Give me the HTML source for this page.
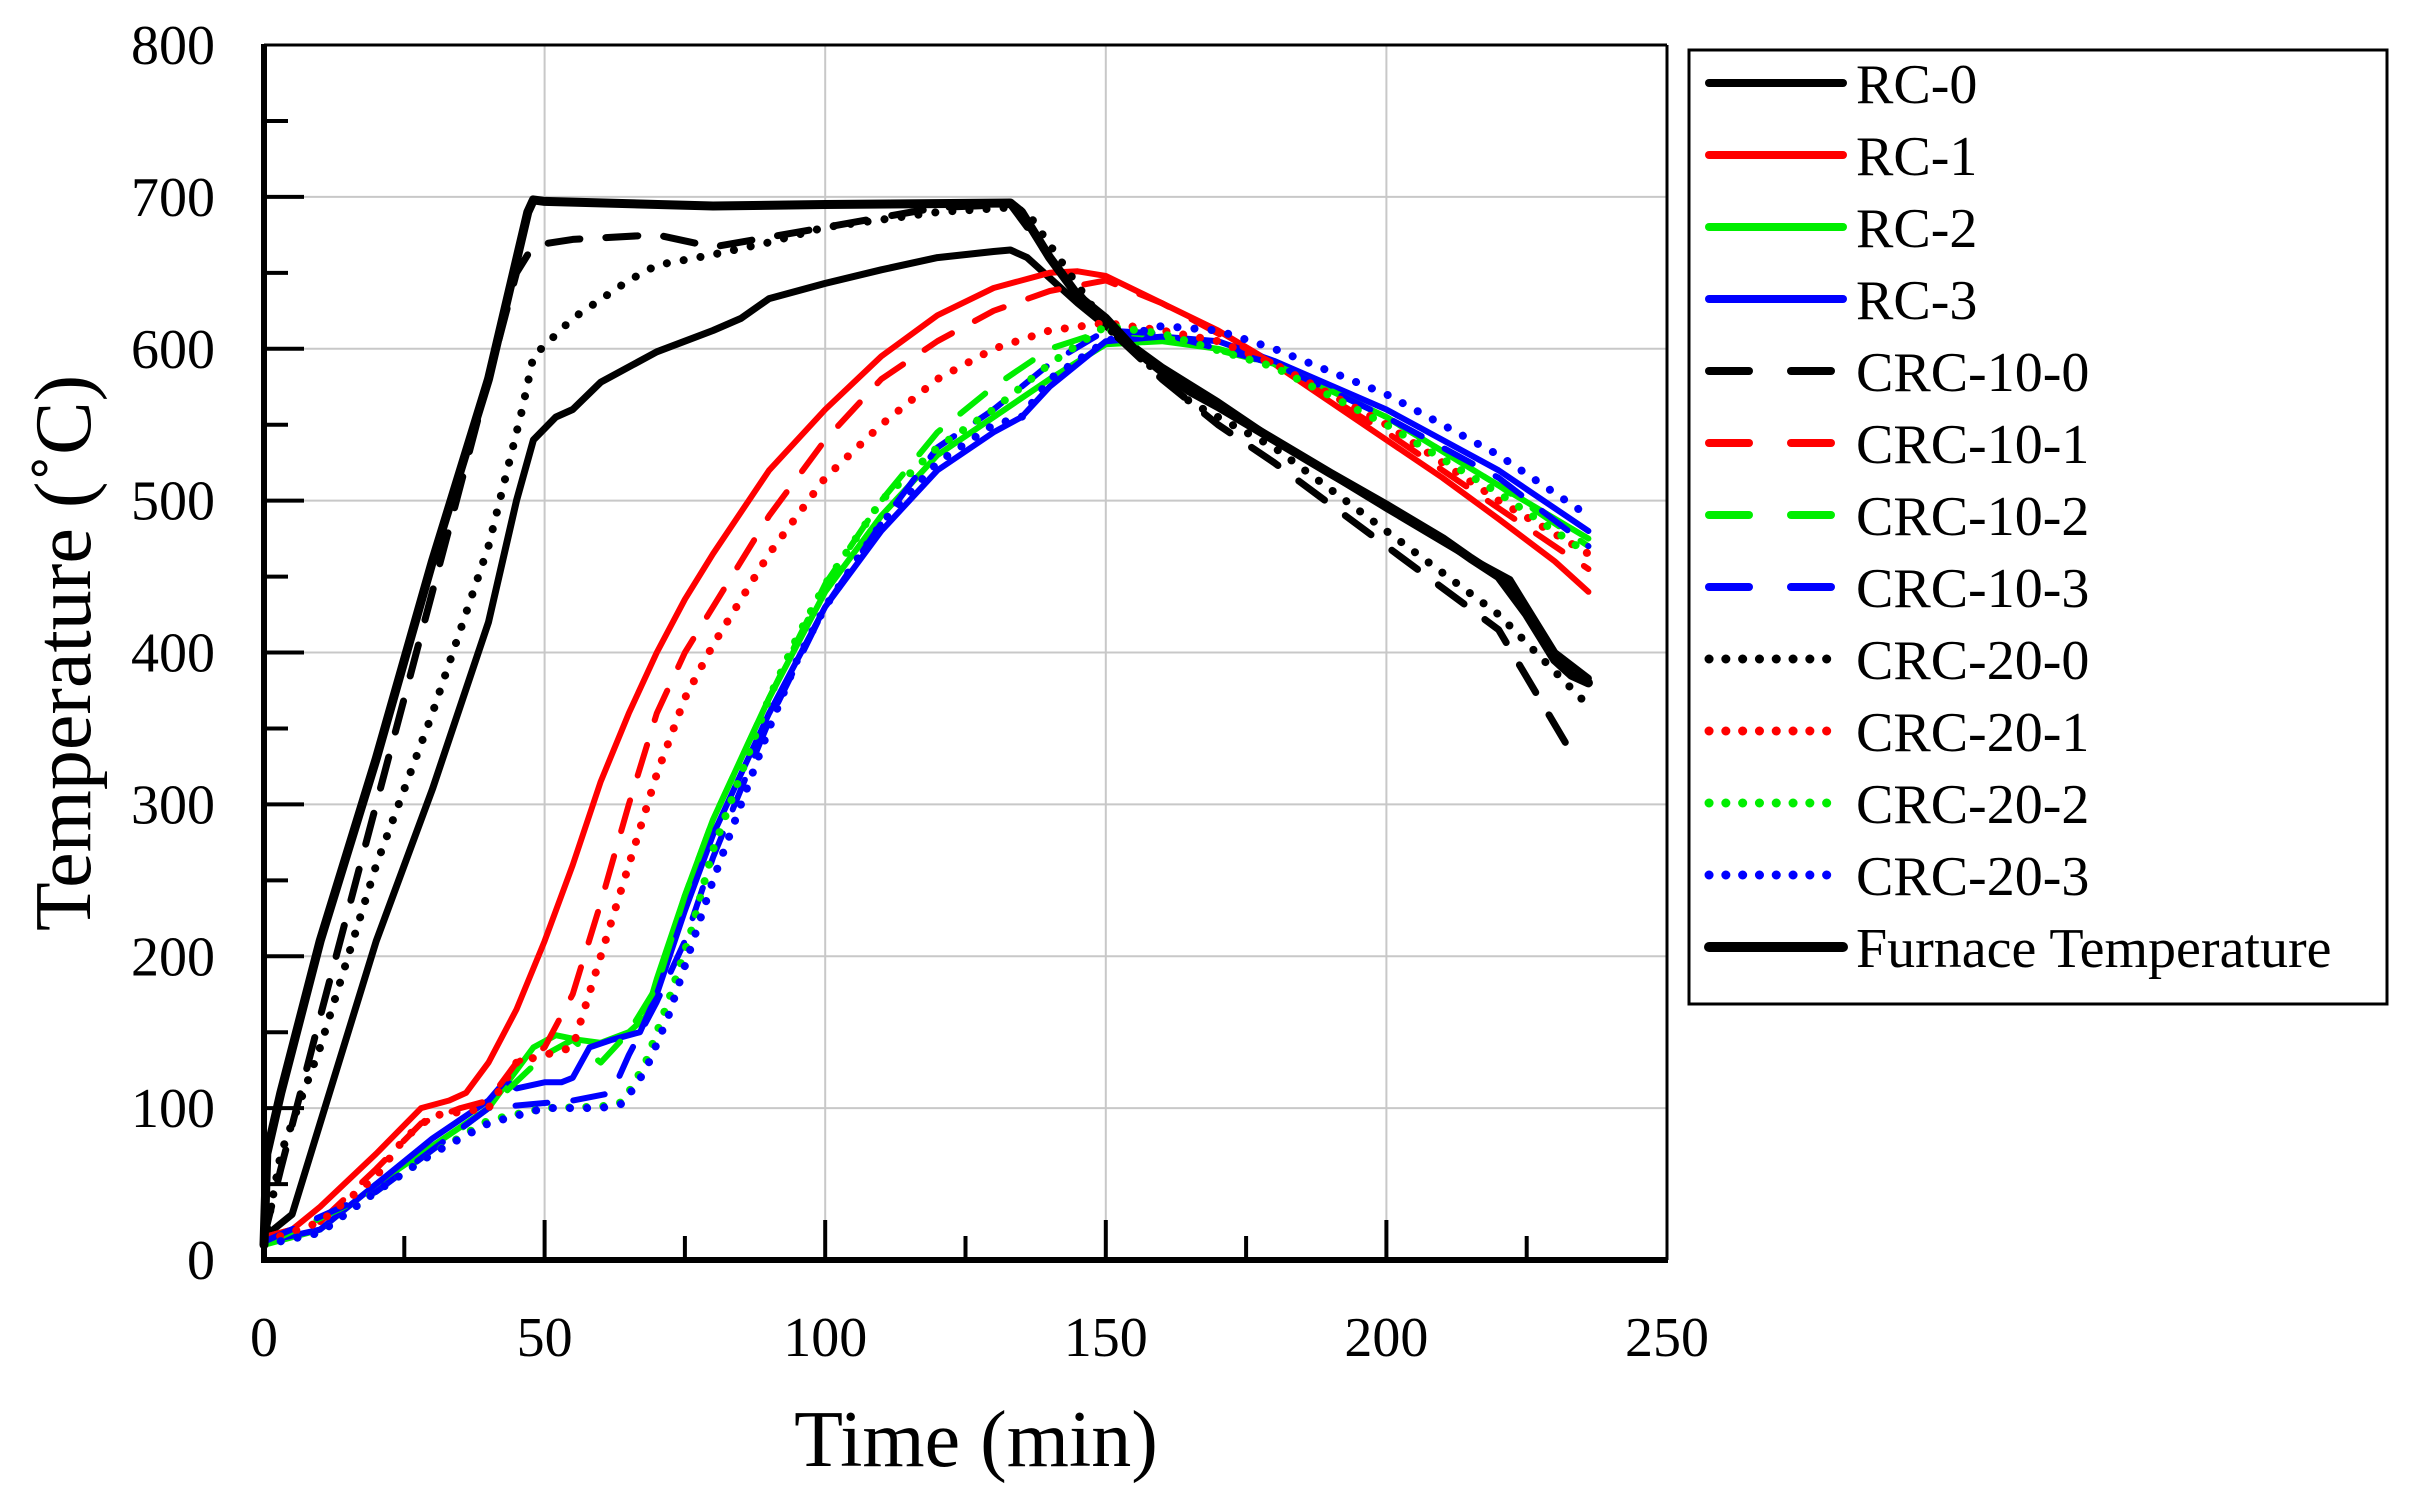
<!DOCTYPE html>
<html><head><meta charset="utf-8"><style>
html,body{margin:0;padding:0;background:#fff}
svg{display:block}
text{font-family:"Liberation Serif","Times New Roman",serif;fill:#000}
</style></head><body>
<svg id="s" width="2418" height="1493" viewBox="0 0 2418 1493" xmlns="http://www.w3.org/2000/svg">
<g id="grid" stroke="#c8c8c8" stroke-width="2"></g>
<g id="series" fill="none" stroke-linejoin="round"></g>
<g id="axes"></g>
<g id="ticks" font-size="56"></g>
<text x="976" y="1466" font-size="80" text-anchor="middle">Time (min)</text>
<text transform="translate(90,653) rotate(-90)" font-size="80" text-anchor="middle">Temperature (˚C)</text>
<rect x="1689" y="50" width="698" height="954" fill="#fff" stroke="#000" stroke-width="3"/>
<g id="legend" font-size="56"></g>
</svg>
<script>
var NS="http://www.w3.org/2000/svg";
function el(p,t,a,txt){var e=document.createElementNS(NS,t);for(var k in a)e.setAttribute(k,a[k]);if(txt!==undefined)e.textContent=txt;document.getElementById(p).appendChild(e);return e;}
var X0=264,X1=1667,Y0=1260,Y1=45;
function px(t){return X0+t*(X1-X0)/250}
function py(T){return Y0-T*(Y0-Y1)/800}
for(var t=50;t<250;t+=50)el('grid','line',{x1:px(t),y1:Y1,x2:px(t),y2:Y0});
for(var T=100;T<800;T+=100)el('grid','line',{x1:X0,y1:py(T),x2:X1,y2:py(T)});
el('axes','line',{x1:X0,y1:Y1,x2:X1,y2:Y1,stroke:'#000','stroke-width':3});
el('axes','line',{x1:X1,y1:Y1,x2:X1,y2:Y0,stroke:'#000','stroke-width':3});
el('axes','line',{x1:X0,y1:Y1-1,x2:X0,y2:Y0+3,stroke:'#000','stroke-width':6});
el('axes','line',{x1:X0-3,y1:Y0,x2:X1+1,y2:Y0,stroke:'#000','stroke-width':6});
for(var t=25;t<250;t+=25){var L=(t%50==0)?40:24;el('axes','line',{x1:px(t),y1:Y0,x2:px(t),y2:Y0-L,stroke:'#000','stroke-width':4});}
for(var T=50;T<800;T+=50){var L=(T%100==0)?40:24;el('axes','line',{x1:X0,y1:py(T),x2:X0+L,y2:py(T),stroke:'#000','stroke-width':4});}
for(var t=0;t<=250;t+=50)el('ticks','text',{x:px(t),y:1356,'text-anchor':'middle'},String(t));
for(var T=0;T<=800;T+=100)el('ticks','text',{x:215,y:py(T)+19,'text-anchor':'end'},String(T));
var K='#000',R='#ff0000',G='#00ee00',B='#0000ff';
var DASH='32 26',DOT='0.1 17';
var S=[
{c:K,d:null,w:7,p:[[0,15],[5,30],[10,90],[20,210],[30,310],[40,420],[45,500],[48,540],[52,555],[55,560],[60,578],[70,598],[80,612],[85,620],[90,633],[100,643],[110,652],[120,660],[130,664],[133,665],[136,660],[145,630],[150,615],[160,588],[170,565],[180,540],[200,495],[215,462],[222,448],[230,400],[236,383]]},
{c:R,d:null,w:6,p:[[0,15],[5,20],[10,35],[20,70],[28,100],[33,105],[36,110],[40,130],[45,165],[50,210],[55,260],[60,315],[65,360],[70,400],[75,435],[80,465],[90,520],[100,560],[110,595],[120,622],[130,640],[140,650],[145,651],[150,648],[160,630],[170,612],[180,590],[190,565],[200,540],[210,515],[220,488],[230,460],[236,440]]},
{c:G,d:null,w:6,p:[[0,10],[5,15],[10,20],[20,50],[30,75],[40,100],[45,125],[48,140],[52,148],[56,145],[60,143],[65,150],[68,160],[70,185],[75,240],[80,290],[85,330],[90,370],[95,405],[100,440],[110,490],[120,530],[130,555],[140,580],[150,603],[160,605],[170,600],[180,590],[200,555],[220,510],[236,475]]},
{c:B,d:null,w:6,p:[[0,12],[10,20],[20,50],[30,80],[40,105],[43,118],[45,113],[50,117],[53,117],[55,120],[58,140],[62,145],[65,148],[67,150],[70,175],[75,230],[80,280],[85,320],[90,360],[100,430],[110,480],[120,520],[130,545],[135,555],[140,575],[150,605],[160,608],[170,605],[180,592],[200,560],[220,520],[236,480]]},
{c:K,d:DASH,w:7,p:[[0,15],[3,60],[10,160],[20,300],[30,440],[40,580],[45,650],[48,668],[55,672],[70,675],[80,667],[100,680],[120,693],[133,695],[140,660],[150,615],[160,580],[170,550],[180,525],[200,470],[220,415],[232,340]]},
{c:R,d:DASH,w:6,p:[[0,15],[10,25],[20,60],[28,90],[35,100],[40,105],[45,130],[50,140],[55,175],[60,235],[65,300],[70,360],[75,400],[80,430],[90,490],[100,540],[110,580],[120,605],[130,625],[140,638],[150,645],[160,630],[180,590],[200,545],[220,495],[236,455]]},
{c:G,d:DASH,w:6,p:[[0,10],[20,45],[40,100],[50,135],[55,145],[60,130],[65,150],[70,180],[75,240],[80,290],[90,370],[100,445],[110,500],[120,545],[130,575],[140,600],[150,612],[160,608],[180,590],[200,555],[220,510],[236,470]]},
{c:B,d:DASH,w:6,p:[[0,12],[20,45],[40,100],[55,105],[62,110],[65,135],[70,170],[75,210],[80,265],[85,310],[90,355],[100,430],[110,485],[120,535],[130,560],[140,590],[150,612],[160,610],[180,590],[200,555],[220,515],[236,470]]},
{c:K,d:DOT,w:8,p:[[0,10],[3,70],[10,140],[20,260],[30,360],[40,470],[46,560],[48,595],[55,620],[65,645],[70,655],[80,662],[90,670],[100,680],[110,685],[120,690],[133,693],[136,690],[150,615],[165,565],[180,535],[200,480],[220,425],[236,365]]},
{c:R,d:DOT,w:8,p:[[0,12],[10,25],[20,55],[25,80],[30,95],[40,100],[45,130],[50,135],[55,140],[60,200],[65,260],[70,320],[75,370],[80,405],[90,465],[100,515],[110,550],[120,580],[130,600],[140,612],[150,617],[160,612],[170,605],[180,590],[200,550],[220,500],[236,465]]},
{c:G,d:DOT,w:8,p:[[0,10],[10,18],[20,45],[30,70],[40,92],[50,100],[60,101],[64,104],[68,130],[72,170],[76,215],[80,270],[85,320],[90,370],[95,410],[100,445],[110,500],[120,535],[130,560],[140,590],[150,615],[160,610],[180,588],[200,550],[220,505],[236,465]]},
{c:B,d:DOT,w:8,p:[[0,10],[10,18],[20,45],[30,70],[40,90],[50,100],[60,100],[64,103],[68,125],[72,160],[76,205],[80,250],[85,300],[90,350],[95,395],[100,430],[110,485],[120,525],[130,550],[135,555],[140,580],[150,605],[160,615],[170,612],[180,600],[200,570],[220,530],[236,490]]},
{c:K,d:null,w:9,p:[[0,10],[0.5,70],[3,110],[10,210],[20,330],[30,460],[40,580],[47,690],[48,698],[50,697],[80,694],[100,695],[133,696],[135,690],[140,660],[145,635],[150,620],[155,600],[160,585],[165,572],[170,562],[180,540],[190,518],[200,497],[210,475],[215,462],[220,450],[225,425],[230,395],[233,385],[236,380]]}
];
var names=['RC-0','RC-1','RC-2','RC-3','CRC-10-0','CRC-10-1','CRC-10-2','CRC-10-3','CRC-20-0','CRC-20-1','CRC-20-2','CRC-20-3','Furnace Temperature'];
S.forEach(function(s,i){
 var pts=s.p.map(function(q){return px(q[0]).toFixed(1)+','+py(q[1]).toFixed(1)}).join(' ');
 var a={points:pts,stroke:s.c,'stroke-width':s.w,'stroke-linecap':'round'};
 if(s.d)a['stroke-dasharray']=s.d;
 el('series','polyline',a);
 var y=83+72*i;
 if(s.d===DASH){
  el('legend','line',{x1:1709,y1:y,x2:1749,y2:y,stroke:s.c,'stroke-width':8,'stroke-linecap':'round'});
  el('legend','line',{x1:1791,y1:y,x2:1831,y2:y,stroke:s.c,'stroke-width':8,'stroke-linecap':'round'});
 } else if(s.d===DOT){
  el('legend','line',{x1:1709,y1:y,x2:1843,y2:y,stroke:s.c,'stroke-width':9,'stroke-linecap':'round','stroke-dasharray':'0.1 16.7'});
 } else {
  el('legend','line',{x1:1709,y1:y,x2:1843,y2:y,stroke:s.c,'stroke-width':i==12?10:8,'stroke-linecap':'round'});
 }
 el('legend','text',{x:1856,y:y+20},names[i]);
});
</script>
</body></html>
